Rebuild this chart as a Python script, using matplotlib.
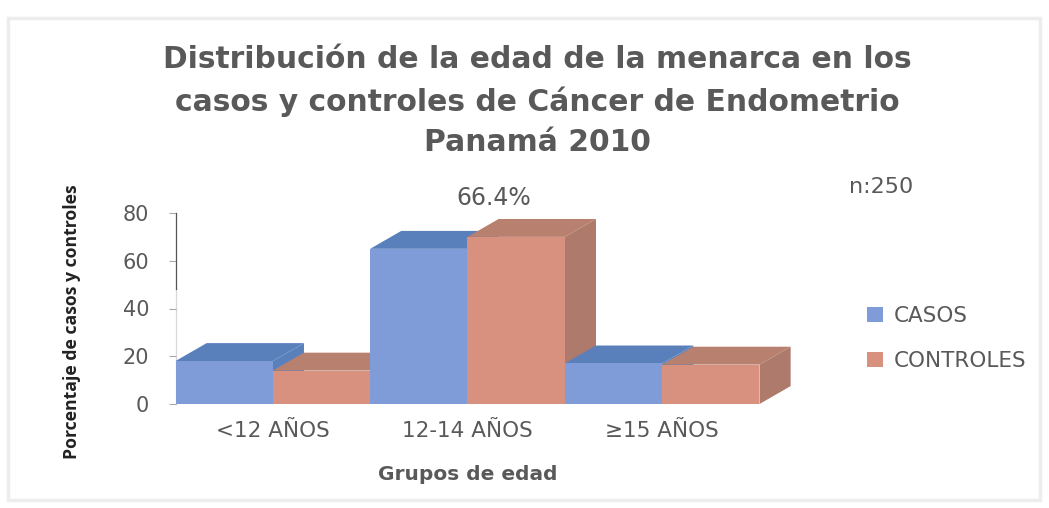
import matplotlib
matplotlib.use("Agg")
import matplotlib.pyplot as plt
from matplotlib.patches import Polygon, Rectangle

grupos = ["<12 AÑOS", "12-14 AÑOS", "≥15 AÑOS"]
casos = [18, 65, 17]
controles = [14, 70, 16.5]
yticks = [0, 20, 40, 60, 80]
titulo = "Distribución de la edad de la menarca en los\ncasos y controles de Cáncer de Endometrio\nPanamá 2010"

W, H = 1049, 508
gris = "#595959"
ancho = 0.5
dx, dy = 0.16, 7.5  # profundidad del efecto 3D

plt.rcParams["font.family"] = ["DejaVu Sans"]
fig = plt.figure(figsize=(W / 100, H / 100), dpi=100)
fig.patches.append(Rectangle((8 / W, 1 - 500 / H), 1032 / W, 482 / H, transform=fig.transFigure,
                             fill=False, edgecolor="#EDEDED", linewidth=2.5, figure=fig))

ax = fig.add_axes([175.5 / W, 1 - 404 / H, 584 / W, 191 / H])
ax.set_xlim(-0.5, 2.5)
ax.set_ylim(0, 80)


def barra3d(x, v, frente, arriba, lado, z, etiqueta=None):
    ax.add_patch(Polygon([(x + ancho / 2, 0), (x + ancho / 2 + dx, dy), (x + ancho / 2 + dx, v + dy), (x + ancho / 2, v)],
                         facecolor=lado, edgecolor="none", clip_on=False, zorder=z))
    ax.add_patch(Polygon([(x - ancho / 2, v), (x - ancho / 2 + dx, v + dy), (x + ancho / 2 + dx, v + dy), (x + ancho / 2, v)],
                         facecolor=arriba, edgecolor="none", clip_on=False, zorder=z))
    ax.bar(x, v, ancho, color=frente, zorder=z + 0.5, label=etiqueta, clip_on=False)


for i in range(len(grupos)):
    barra3d(i - 0.25, casos[i], "#7F9CD8", "#5A80BC", "#5A80BC", 3 + i * 2, "CASOS" if i == 0 else None)
    barra3d(i + 0.25, controles[i], "#D9917F", "#B8806F", "#AD7A6C", 4 + i * 2, "CONTROLES" if i == 0 else None)

for s in ["top", "right", "bottom"]:
    ax.spines[s].set_visible(False)
ax.spines["left"].set_bounds(48, 80)
ax.spines["left"].set_color("#555555")
ax.spines["left"].set_linewidth(0.9)
ax.plot([-0.5, -0.5], [0, 48], color="#D8D8D8", lw=0.9, clip_on=False, zorder=1)
ax.axhline(0, color="#DDDDDD", lw=1, zorder=1)

ax.set_yticks(yticks)
ax.tick_params(axis="y", labelsize=15, labelcolor=gris, color="#AAAAAA", length=5, pad=14)
ax.set_xticks(range(len(grupos)))
ax.set_xticklabels(grupos, fontsize=15.5, color=gris)
ax.tick_params(axis="x", length=0, pad=12)

fig.text(537 / W, 1 - 101 / H, titulo, ha="center", va="center", fontsize=21.4, fontweight="bold",
         color=gris, linespacing=1.5)
fig.text(72 / W, 1 - 322 / H, "Porcentaje de casos y controles", rotation=90, ha="center", va="center",
         fontsize=12.7, fontweight="bold", color="#222222", family=["Open Sans"])
fig.text(468 / W, 1 - 474 / H, "Grupos de edad", ha="center", va="center", fontsize=14.5, fontweight="bold", color=gris)
fig.text(494 / W, 1 - 198 / H, "66.4%", ha="center", va="center", fontsize=17, color=gris)
fig.text(881 / W, 1 - 187 / H, "n:250", ha="center", va="center", fontsize=16, color=gris)

fig.legend(loc="upper left", bbox_to_anchor=(867 / W, 1 - 306 / H), frameon=False, fontsize=15.5,
           labelcolor=gris, handlelength=0.72, handleheight=0.72, handletextpad=0.5, labelspacing=1.15,
           borderaxespad=0, borderpad=0)

fig.savefig("out.png", dpi=100)
